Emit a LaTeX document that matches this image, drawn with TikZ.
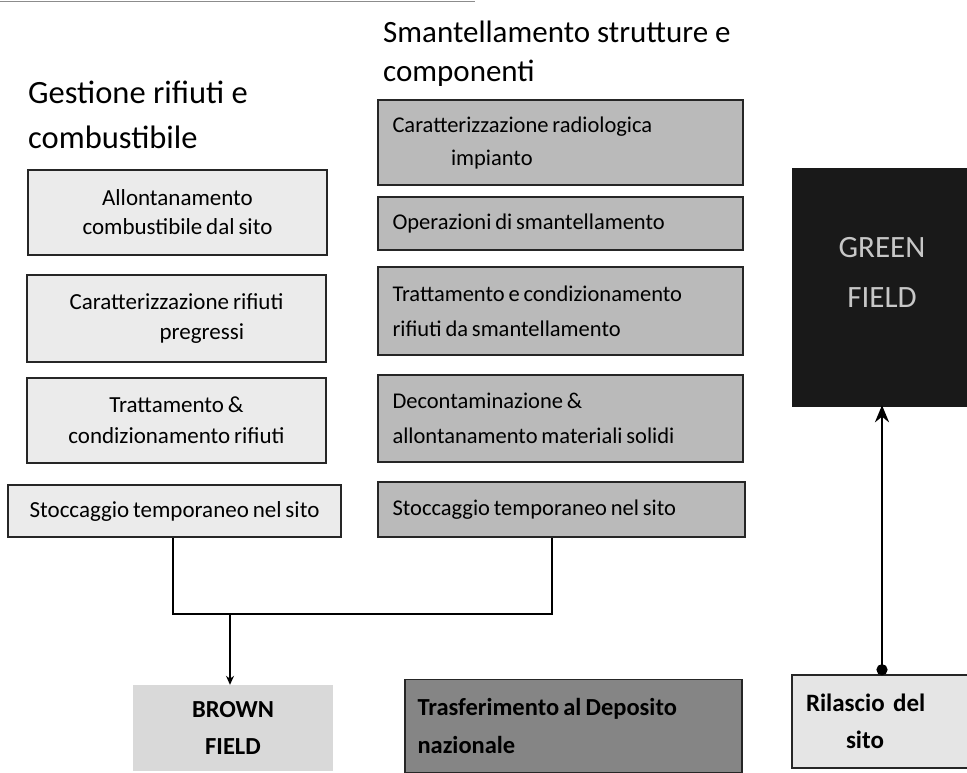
\documentclass[tikz,border=0pt]{standalone}
\usepackage{fontspec}
\setmainfont{Carlito}
\usetikzlibrary{arrows.meta}
\newcommand{\tightsp}{\spaceskip=0.17em plus 0.05em\relax}
\tikzset{
  lbox/.style={draw=black!85, line width=1.6pt, fill=black!8, inner sep=0pt, align=center, font=\fontsize{23}{29}\selectfont, execute at begin node=\tightsp},
  rbox/.style={draw=black!85, line width=1.6pt, fill=black!27, inner sep=0pt, align=left, text width=336, font=\fontsize{22.5}{33}\selectfont, execute at begin node=\tightsp},
  ttl/.style={anchor=base west, inner sep=0pt, font=\fontsize{32.5}{40}\selectfont},
  conn/.style={draw=black, line width=1.3pt},
}
\begin{document}
\begin{tikzpicture}[x=1pt,y=-1pt]
\useasboundingbox (0,0) rectangle (967,772);
% scan rule at top
\draw[black!45, line width=1.2pt] (0,1.5) -- (475,1.5);
% titles
\node[ttl] (t1a) at (28,103) {Gestione rifiuti e};
\node[ttl] (t1b) at (28,148) {combustibile};
\node[ttl, font=\fontsize{31}{40}\selectfont] (t2a) at (383,42) {Smantellamento strutture e};
\node[ttl, font=\fontsize{31}{40}\selectfont] (t2b) at (383,81) {componenti};
% left column
\node[lbox, minimum width=299, minimum height=85] (l1) at (177.5,212.5) {Allontanamento\\combustibile dal sito};
\node[lbox, minimum width=299, minimum height=87, font=\fontsize{23}{30}\selectfont] (l2) at (176.5,318.5) {Caratterizzazione rifiuti\\\hspace*{2.2em}pregressi};
\node[lbox, minimum width=299, minimum height=85, font=\fontsize{23}{31}\selectfont] (l3) at (176.5,420.5) {Trattamento \&\\condizionamento rifiuti};
\node[lbox, minimum width=333, minimum height=52] (stocL) at (174.5,511) {Stoccaggio temporaneo nel sito};
% right column
\node[rbox, minimum width=365, minimum height=85] (r1) at (560.5,142.5) {Caratterizzazione radiologica\\\hspace*{2.6em}impianto};
\node[rbox, minimum width=365, minimum height=53] (r2) at (560.5,223.5) {Operazioni di smantellamento};
\node[rbox, minimum width=365, minimum height=88, font=\fontsize{22.5}{35}\selectfont] (r3) at (560.5,311) {Trattamento e condizionamento\\rifiuti da smantellamento};
\node[rbox, minimum width=365, minimum height=87, font=\fontsize{22.5}{35}\selectfont] (r4) at (560.5,418.5) {Decontaminazione \&\\allontanamento materiali solidi};
\node[rbox, minimum width=367, minimum height=55, text width=338] (stocR) at (561.5,509.5) {Stoccaggio temporaneo nel sito};
% bottom row
\node[fill=black!15, minimum width=200, minimum height=86, inner sep=0pt, align=center, font=\fontsize{24.5}{37}\selectfont\bfseries] (brown) at (233,728) {BROWN\\FIELD};
\node[draw=black!85, line width=1.6pt, fill=black!48, minimum width=337, minimum height=93, text width=312, inner sep=0pt, align=left, font=\fontsize{24.5}{38}\selectfont\bfseries, execute at begin node=\tightsp] (dep) at (573.5,726) {Trasferimento al Deposito\\nazionale};
\node[draw=black!85, line width=1.6pt, fill=black!10, minimum width=180, minimum height=93, text width=152, inner sep=0pt, align=left, font=\fontsize{25}{37}\selectfont\bfseries] (ril) at (882,721.5) {Rilascio del\\\hspace*{1.6em}sito};
\node[fill=black!90, minimum width=180, minimum height=239, inner sep=0pt, align=center, text=black!22, text depth=30pt, font=\fontsize{31}{50}\selectfont] (green) at (882,287.5) {GREEN\\FIELD};
% connectors
\coordinate (jl) at ([xshift=-1.5]stocL.south |- 0,614);
\coordinate (jr) at ([xshift=-9.5]stocR.south |- 0,614);
\draw[conn] ([xshift=-1.5]stocL.south) -- (jl) -- (jr) -- ([xshift=-9.5]stocR.south);
\coordinate (jb) at ([xshift=-3]brown.north |- 0,614);
\draw[conn, -{Stealth[length=9pt,width=8pt]}] (jb) -- ([xshift=-3]brown.north);
\draw[black, line width=2.8pt, {Circle[length=11pt,width=11pt]}-{Stealth[length=17pt,width=14pt]}] ([yshift=-1]ril.north) -- ([yshift=2]green.south);
\end{tikzpicture}
\end{document}
